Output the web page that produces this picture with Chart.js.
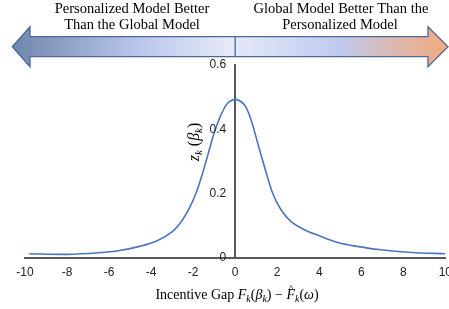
<!DOCTYPE html>
<html>
<head>
<meta charset="utf-8">
<script src="https://cdn.jsdelivr.net/npm/chart.js@4.4.0/dist/chart.umd.min.js"></script>
<style>
  html, body { margin: 0; padding: 0; background: #fff; overflow: hidden; }
  #wrap { width: 460px; height: 309px; }
</style>
</head>
<body>
<div id="wrap"><canvas id="myChart"></canvas></div>
<script>
// incentive gap (x) and z_k(beta_k)
var gapX = [-9.8, -8, -6.5, -5.5, -4.55, -3.76, -2.97, -2.5, -2.18, -1.86, -1.55, -1.23, -1.0, -0.68, -0.36, 0.03, 0.44, 0.76, 1.07, 1.39, 1.78, 2.18, 2.65, 3.29, 4.0, 4.93, 5.8, 6.82, 8.4, 10];
var zVals = [0.012, 0.01, 0.015, 0.022, 0.035, 0.051, 0.082, 0.118, 0.154, 0.201, 0.263, 0.336, 0.388, 0.444, 0.481, 0.493, 0.476, 0.429, 0.357, 0.284, 0.201, 0.149, 0.113, 0.087, 0.068, 0.046, 0.035, 0.025, 0.016, 0.012];
var xTicks = [-10, -8, -6, -4, -2, 0, 2, 4, 6, 8, 10];
var yTicks = [0, 0.2, 0.4, 0.6];
var leftLabel = ['Personalized Model Better', 'Than the Global Model'];
var rightLabel = ['Global Model Better Than the', 'Personalized Model'];

var points = gapX.map(function (x, i) { return { x: x, y: zVals[i] }; });

// draws the arrow banner, y tick labels and the two axis titles
var decor = {
    id: 'decor',
    afterDraw: function (chart) {
        var c = chart.ctx;
        var xs = chart.scales.x, ys = chart.scales.y;
        var mid = xs.getPixelForValue(0);
        var cy = 46.7, bh = 10, hh = 20;
        var l = 12.3, lb = 30, r = 448, rb = 428;

        c.save();
        var g = c.createLinearGradient(l, 0, r, 0);
        g.addColorStop(0, '#6f86ab');
        g.addColorStop(0.28, '#b7c5ec');
        g.addColorStop(0.5, '#e6eaf8');
        g.addColorStop(0.75, '#bfcaef');
        g.addColorStop(0.88, '#dcb8b0');
        g.addColorStop(1, '#f2aa7c');
        c.beginPath();
        c.moveTo(l, cy);
        c.lineTo(lb, cy - hh);
        c.lineTo(lb, cy - bh);
        c.lineTo(rb, cy - bh);
        c.lineTo(rb, cy - hh);
        c.lineTo(r, cy);
        c.lineTo(rb, cy + hh);
        c.lineTo(rb, cy + bh);
        c.lineTo(lb, cy + bh);
        c.lineTo(lb, cy + hh);
        c.closePath();
        c.fillStyle = g;
        c.fill();
        c.strokeStyle = '#4d6896';
        c.lineWidth = 1.3;
        c.stroke();
        c.beginPath();
        c.moveTo(mid, cy - bh);
        c.lineTo(mid, cy + bh);
        c.stroke();

        c.fillStyle = '#000';
        c.font = '14.5px "Liberation Serif", serif';
        c.textAlign = 'center';
        c.textBaseline = 'alphabetic';
        c.fillText(leftLabel[0], 132, 13);
        c.fillText(leftLabel[1], 132, 29);
        c.fillText(rightLabel[0], 341, 13);
        c.fillText(rightLabel[1], 340, 29);

        // y tick labels, left of the centred axis
        c.fillStyle = '#222';
        c.font = '12px "Liberation Sans", Arial';
        c.textAlign = 'right';
        c.textBaseline = 'middle';
        ys.ticks.forEach(function (t) {
            c.fillText(String(t.value), mid - 9, ys.getPixelForValue(t.value));
        });

        // x title
        c.fillStyle = '#000';
        c.textBaseline = 'alphabetic';
        var rm = '14px "Liberation Serif", serif', it = 'italic 14px "Liberation Serif", serif', sb = 'italic 10px "Liberation Serif", serif';
        var parts = [
            ['Incentive Gap ', rm, 0],
            ['F', it, 0], ['k', sb, 3], ['(', rm, 0], ['\u03b2', it, 0], ['k', sb, 3],
            [') \u2212 ', rm, 0],
            ['F', it, 0], ['k', sb, 3], ['(', rm, 0], ['\u03c9', it, 0], [')', rm, 0]
        ];
        drawParts(c, parts, 237, 299, 7);

        // y title, rotated
        c.translate(199, 142);
        c.rotate(-Math.PI / 2);
        var rm2 = '16px "Liberation Serif", serif', it2 = 'italic 16px "Liberation Serif", serif', sb2 = 'italic 11px "Liberation Serif", serif';
        var yparts = [
            ['z', it2, 0], ['k', sb2, 3], [' (', rm2, 0], ['\u03b2', it2, 0], ['k', sb2, 3], [')', rm2, 0]
        ];
        drawParts(c, yparts, 0, 0, -1);
        c.restore();
    }
};

function drawParts(c, parts, cx, by, hatIndex) {
    c.textAlign = 'left';
    var total = 0;
    parts.forEach(function (p) { c.font = p[1]; total += c.measureText(p[0]).width; });
    var x = cx - total / 2;
    parts.forEach(function (p, i) {
        c.font = p[1];
        c.fillText(p[0], x, by + p[2]);
        var w = c.measureText(p[0]).width;
        if (i === hatIndex) {
            c.font = '11px "Liberation Serif", serif';
            c.fillText('^', x + 2, by - 7);
        }
        x += w;
    });
}

var ctx = document.getElementById('myChart').getContext('2d');
var myChart = new Chart(ctx, {
    type: 'line',
    data: {
        datasets: [{
            data: points,
            borderColor: '#4a74c2',
            borderWidth: 1.6,
            backgroundColor: 'transparent',
            pointRadius: 0,
            tension: 0.3
        }]
    },
    options: {
        responsive: true,
        maintainAspectRatio: false,
        animation: false,
        layout: { padding: { left: 25, right: 13, top: 65, bottom: 21 } },
        plugins: { legend: { display: false }, tooltip: { enabled: false } },
        scales: {
            x: {
                type: 'linear',
                min: -10, max: 10,
                afterBuildTicks: function (s) { s.ticks = xTicks.map(function (v) { return { value: v }; }); },
                grid: { display: false, drawTicks: false },
                border: { display: true, color: '#595959', width: 2 },
                ticks: { padding: 8, color: '#222', font: { family: '"Liberation Sans", Arial', size: 12 }, maxRotation: 0 }
            },
            y: {
                type: 'linear',
                position: { x: 0 },
                min: 0, max: 0.6,
                afterBuildTicks: function (s) { s.ticks = yTicks.map(function (v) { return { value: v }; }); },
                grid: { display: false, drawTicks: false },
                border: { display: true, color: '#595959', width: 2 },
                ticks: { display: false }
            }
        }
    },
    plugins: [decor]
});
</script>
</body>
</html>
